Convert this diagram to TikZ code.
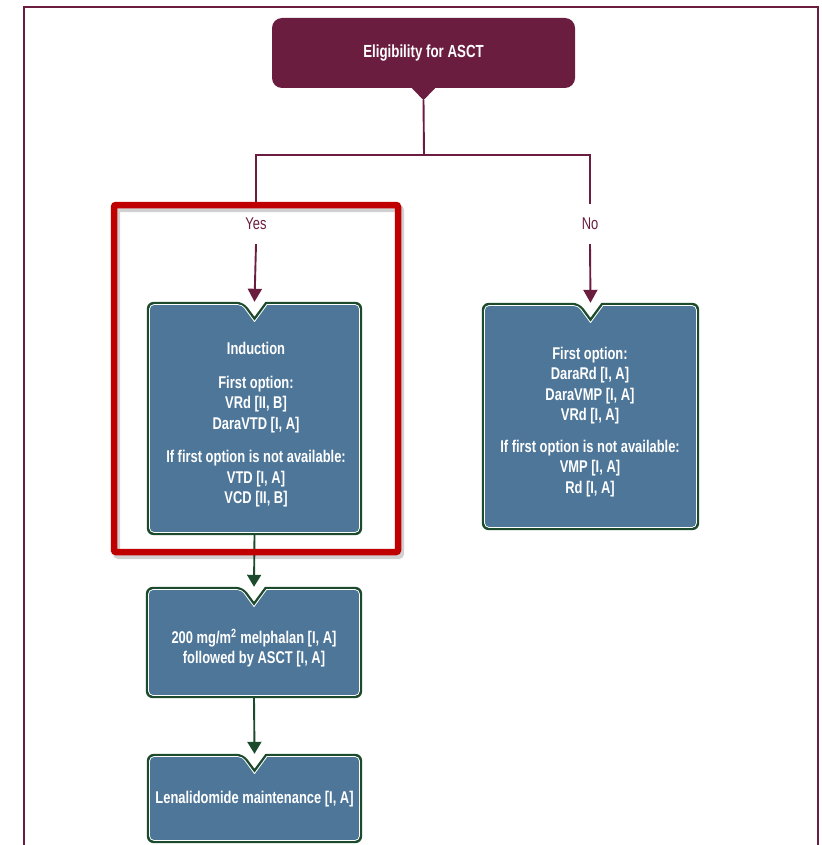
\documentclass[tikz,border=0pt]{standalone}
\usepackage{fontspec}
\setmainfont{Liberation Sans}
\newfontfamily\condfont{Liberation Sans}[FakeStretch=0.76]
\usetikzlibrary{arrows.meta,calc}

\definecolor{maroon}{HTML}{6B1D40}
\definecolor{steel}{HTML}{4E7699}
\definecolor{pine}{HTML}{1C4A2C}
\definecolor{alert}{HTML}{C00000}

\pgfdeclarelayer{back}
\pgfsetlayers{back,main}

% Outline of a box with a V-shaped notch in the middle of its top edge,
% shrunk inwards by #2 (pt).
\newcommand\notchpath[2]{%
  [rounded corners={7pt-#2pt}]
  ($(#1.north west)+(#2,#2)$)
  -- ($(#1.north)+({-11-0.5*#2},#2)$)
  [sharp corners]
  -- ($(#1.north)+(0,{15+1.69*#2})$)
  -- ($(#1.north)+({11+0.5*#2},#2)$)
  [rounded corners={7pt-#2pt}]
  -- ($(#1.north east)+(-#2,#2)$)
  -- ($(#1.south east)+(-#2,-#2)$)
  -- ($(#1.south west)+(#2,-#2)$)
  -- cycle}
% Dark green rim, thin white line, blue face
\newcommand\notchbox[1]{%
  \fill[pine] \notchpath{#1}{0};
  \fill[white] \notchpath{#1}{2.4};
  \fill[steel] \notchpath{#1}{3.4};}

\tikzset{
  boxarea/.style={draw=none, inner sep=0pt, minimum width=#1},
  boxtext/.style={text=white, align=center,
    font=\condfont\bfseries\fontsize{17}{20.5}\selectfont},
  branchlabel/.style={text=maroon, inner sep=0pt, minimum height=40pt,
    font=\condfont\fontsize{17}{18}\selectfont},
  maroonline/.style={draw=maroon, line width=1.9pt},
  maroonarrow/.style={maroonline, -{Triangle[width=14pt,length=13pt]}},
  greenarrow/.style={draw=pine, line width=1.9pt, -{Triangle[width=14pt,length=12pt]}},
}

\begin{document}
\begin{tikzpicture}[x=1pt,y=-1pt]
  \useasboundingbox (0,0) rectangle (821,845);

  % page frame
  \draw[maroon, line width=2.2pt] (24,846) -- (24,7) -- (818,7) -- (818,846);

  % title box with its pointer
  \node[fill=maroon, rounded corners=10pt, minimum width=303pt, minimum height=70pt,
        text=white, font=\condfont\bfseries\fontsize{17.5}{18}\selectfont]
        (elig) at (423.5,53) {Eligibility for ASCT};
  \fill[maroon] ($(elig.south)+(-12.5,-1)$) -- ($(elig.south)+(0,12)$)
                -- ($(elig.south)+(12.5,-1)$) -- cycle;
  \coordinate (eligtip) at ($(elig.south)+(0,12)$);
  \coordinate (split) at (424,155);

  % branch labels
  \node[branchlabel] (yes) at (256,224) {Yes};
  \node[branchlabel] (no)  at (590,224) {No};

  % box areas
  \node[boxarea=215pt, minimum height=233pt] (ind)   at (254.5,418.5) {};
  \node[boxarea=217pt, minimum height=227pt] (noasct) at (590.5,416.5) {};
  \node[boxarea=216pt, minimum height=111pt] (melph) at (254,642.5) {};
  \node[boxarea=215pt, minimum height=89pt]  (lena)  at (254.5,798.5) {};

  \begin{pgfonlayer}{back}
    \notchbox{ind}
    \notchbox{noasct}
    \notchbox{melph}
    \notchbox{lena}
  \end{pgfonlayer}

  % box texts
  \node[boxtext] (indtxt) at (256,425)
    {Induction\\[13pt]
     First option:\\
     VRd [II, B]\\
     DaraVTD [I, A]\\[13pt]
     If first option is not available:\\
     VTD [I, A]\\
     VCD [II, B]};
  \node[boxtext] (noascttxt) at (590,422)
    {First option:\\
     DaraRd [I, A]\\
     DaraVMP [I, A]\\
     VRd [I, A]\\[11pt]
     If first option is not available:\\
     VMP [I, A]\\
     Rd [I, A]};
  \node[boxtext] (melphtxt) at (254,648)
    {200 mg/m\textsuperscript{2} melphalan [I, A]\\
     followed by ASCT [I, A]};
  \node[boxtext] (lenatxt) at (254.5,799.5) {Lenalidomide maintenance [I, A]};

  % connectors
  \draw[maroonline] (eligtip) -- (split) -| (yes.north);
  \draw[maroonline] (split) -| (no.north);
  \draw[maroonarrow] (yes.south) -- (ind.north);
  \draw[maroonarrow] (no.south) -- (noasct.north);
  \draw[greenarrow] (ind.south) -- (melph.north);
  \draw[greenarrow] (melph.south) -- (lena.north);

  % highlight frame round the induction branch
  \draw[black, opacity=0.18, line width=7pt, rounded corners=2pt]
       (116.5,208.5) rectangle (400.5,555.5);
  \draw[alert, line width=6.5pt, rounded corners=2pt] (114,205) rectangle (398,552);
\end{tikzpicture}
\end{document}
